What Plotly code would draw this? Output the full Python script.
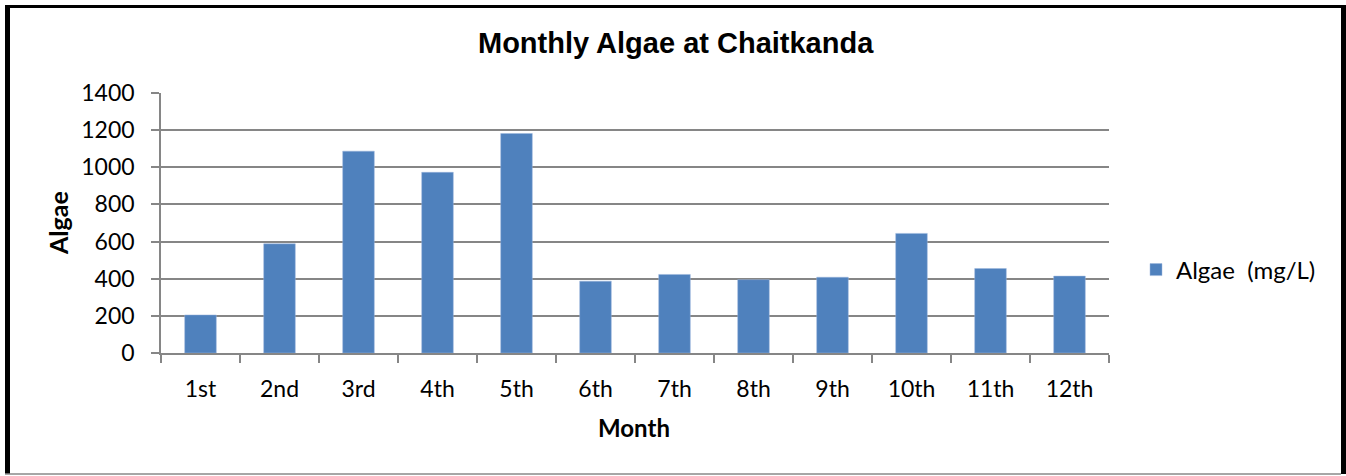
import plotly.graph_objects as go

months = ["1st", "2nd", "3rd", "4th", "5th", "6th", "7th", "8th", "9th", "10th", "11th", "12th"]
algae = [205, 588, 1087, 973, 1182, 387, 423, 395, 408, 644, 455, 414]
y_ticks = [0, 200, 400, 600, 800, 1000, 1200, 1400]

W, H = 1346, 476
L, R, T, B = 161, 1109, 93, 353
pw, ph = R - L, B - T

def px(x):
    return (x - L) / pw

def py(y):
    return (B - y) / ph

tick_font = dict(family="Lato, Carlito, Calibri, sans-serif", size=23, color="#000000")

fig = go.Figure()
fig.add_trace(go.Bar(
    x=months, y=algae, name="Algae  (mg/L)",
    marker=dict(color="#4F81BD", line=dict(color="#9DB7DC", width=0.5)),
    width=0.4,
))

shapes = [
    dict(type="line", xref="paper", yref="paper", x0=px(7.5), x1=px(7.5), y0=py(5), y1=py(474),
         line=dict(color="#000000", width=5)),
    dict(type="line", xref="paper", yref="paper", x0=px(5), x1=px(1346), y0=py(6.5), y1=py(6.5),
         line=dict(color="#000000", width=3)),
    dict(type="line", xref="paper", yref="paper", x0=px(1343.5), x1=px(1343.5), y0=py(5), y1=py(474),
         line=dict(color="#000000", width=5)),
    dict(type="line", xref="paper", yref="paper", x0=px(5), x1=px(1341), y0=py(474), y1=py(474),
         line=dict(color="#888888", width=1.5)),
]

fig.update_layout(
    width=W, height=H,
    margin=dict(l=L, r=W - R, t=T, b=H - B, pad=0),
    paper_bgcolor="white", plot_bgcolor="white",
    showlegend=True,
    legend=dict(x=px(1136), y=py(270), xanchor="left", yanchor="middle",
                font=dict(family="Lato, Carlito, Calibri, sans-serif", size=24, color="#000000"),
                bgcolor="rgba(0,0,0,0)"),
    bargap=0.6,
    shapes=shapes,
    annotations=[
        dict(text="<b>Monthly Algae at Chaitkanda</b>", xref="paper", yref="paper",
             x=px(676), y=py(43), xanchor="center", yanchor="middle", showarrow=False,
             font=dict(family="Liberation Sans, Arial, sans-serif", size=29, color="#000000")),
        dict(text="<b>Month</b>", xref="paper", yref="paper",
             x=px(634), y=py(428), xanchor="center", yanchor="middle", showarrow=False,
             font=dict(family="Lato, Carlito, Calibri, sans-serif", size=24, color="#000000")),
        dict(text="<b>Algae</b>", xref="paper", yref="paper", textangle=-90,
             x=px(58), y=py(223), xanchor="center", yanchor="middle", showarrow=False,
             font=dict(family="Lato, Carlito, Calibri, sans-serif", size=25, color="#000000")),
    ],
)

fig.update_xaxes(
    type="category", showgrid=False, showline=True, linecolor="#868686", linewidth=1.5,
    ticks="outside", tickson="boundaries", ticklen=8, tickcolor="#868686", tickwidth=1.5,
    tickfont=tick_font, ticklabelstandoff=15,
)
fig.update_yaxes(
    range=[0, 1400], tickvals=y_ticks, showgrid=True, gridcolor="#868686", gridwidth=1.5,
    showline=True, linecolor="#868686", linewidth=1.5, zeroline=False,
    ticks="outside", ticklen=8, tickcolor="#868686", tickwidth=1.5,
    tickfont=tick_font, ticklabelstandoff=12,
)

fig.write_html("out.html", config={"displayModeBar": False},
               post_script="document.body.style.margin='0';document.body.style.overflow='hidden';")
